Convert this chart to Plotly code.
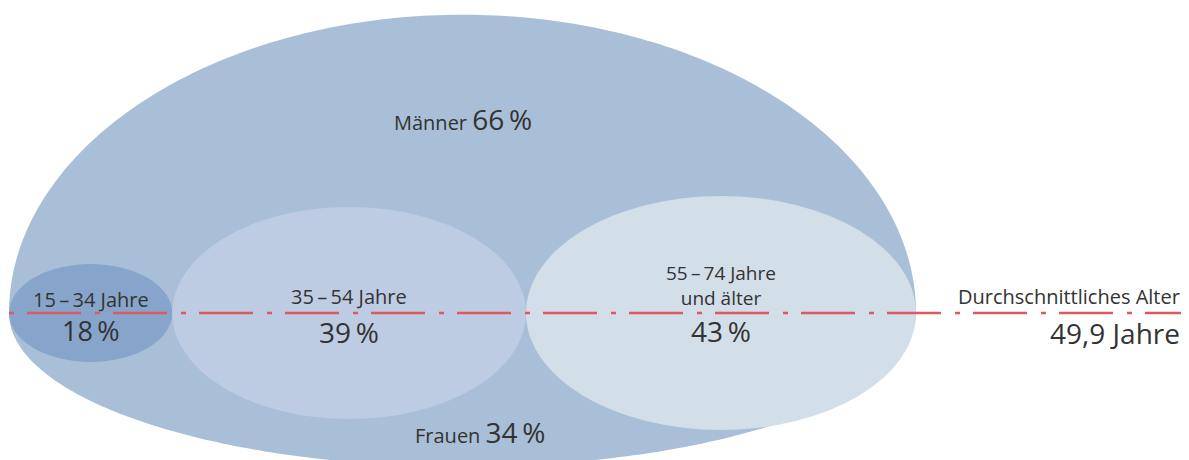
import numpy as np
import plotly.graph_objects as go

# ---------------- data ----------------
gender_labels = ["Männer", "Frauen"]
gender_shares = [66, 34]                      # %
age_labels = ["15–34 Jahre", "35–54 Jahre", "55–74 Jahre<br>und älter"]
age_shares = [18, 39, 43]                     # %
avg_label = "Durchschnittliches Alter"
avg_age = 49.9                                # Jahre

# ---------------- layout / style constants ----------------
W, H = 1189, 460
PAD = 8            # default page body margin of the html page
egg_left, egg_right = 9, 916
axis_y = 313
egg_height = 452
age_aspect = 0.6

col_egg = "#a8bfd7"
age_colors = ["#87a5cb", "#bdcce3", "#d2dee8"]
col_line = "#dc5961"
col_text = "#333333"
FONT = "Open Sans"
fs_small, fs_big = 20, 28
TS = "\u2009"


def pct(v):
    return f"{v}{TS}%"


def dash_lbl(s):
    return s.replace("–", TS + "–" + TS)


fig = go.Figure()

# egg: upper half (Männer share) + lower half (Frauen share)
cx = (egg_left + egg_right) / 2
rx = (egg_right - egg_left) / 2
ry_top = egg_height * gender_shares[0] / 100
ry_bot = egg_height * gender_shares[1] / 100
t = np.linspace(0, np.pi, 200)
xs_top = cx - rx * np.cos(t)
ys_top = axis_y - ry_top * np.sin(t)
xs_bot = cx + rx * np.cos(t)
ys_bot = axis_y + ry_bot * np.sin(t)
xs = np.concatenate([xs_top, xs_bot])
ys = np.concatenate([ys_top, ys_bot])
path = "M " + " L ".join(f"{a:.2f},{b:.2f}" for a, b in zip(xs, ys)) + " Z"
fig.add_shape(type="path", path=path, xref="x", yref="y",
              fillcolor=col_egg, line=dict(width=0), layer="below")

# age group ellipses, widths proportional to shares
total_w = egg_right - egg_left
x0 = egg_left
centers = []
for share, col in zip(age_shares, age_colors):
    w = total_w * share / 100
    h = w * age_aspect
    fig.add_shape(type="circle", xref="x", yref="y",
                  x0=x0, x1=x0 + w, y0=axis_y - h / 2, y1=axis_y + h / 2,
                  fillcolor=col, line=dict(width=0), layer="below")
    centers.append(x0 + w / 2)
    x0 += w

# average age line
fig.add_shape(type="line", xref="x", yref="y", x0=egg_left, x1=1181,
              y0=axis_y, y1=axis_y,
              line=dict(color=col_line, width=2.5, dash="5px,13px,54px,14px"),
              layer="above")


def put(x, center_y, text, fs, xanchor="center"):
    fig.add_annotation(x=x, y=center_y, xref="x", yref="y",
                       text=text, showarrow=False, xanchor=xanchor,
                       yanchor="middle", borderpad=0,
                       font=dict(family=FONT, size=fs, color=col_text))


def put_b(x, baseline, text, fs, xanchor="center"):
    put(x, baseline - 0.39 * fs, text, fs, xanchor)


# gender labels (small word + large percentage)
for lab, share, gx, gb in zip(gender_labels, gender_shares, [463, 480], [130, 443]):
    put(gx, gb - 0.39 * fs_big,
        f"{lab} <span style='font-size:{fs_big}px'>{pct(share)}</span>", fs_small)

# age labels
label_baselines = [307, 304, None]
pct_baselines = [341, 343, 342]
pct_sizes = [27, fs_big, fs_big]
for cxx, lab, share, lb, pb, pf in zip(centers, age_labels, age_shares,
                                       label_baselines, pct_baselines, pct_sizes):
    if "<br>" in lab:
        put(cxx, 285, dash_lbl(lab), 19)
    else:
        put_b(cxx, lb, dash_lbl(lab), fs_small)
    put_b(cxx, pb, pct(share), pf)

# average age
put_b(1181, 304, avg_label, fs_small, xanchor="right")
put_b(1181, 344, f"{avg_age:.1f}".replace(".", ",") + " Jahre", fs_big, xanchor="right")

fig.update_layout(
    width=W - PAD, height=H - PAD, margin=dict(l=0, r=0, t=0, b=0),
    paper_bgcolor="white", plot_bgcolor="white", showlegend=False,
    xaxis=dict(range=[PAD, W], visible=False, fixedrange=True),
    yaxis=dict(range=[H, PAD], visible=False, fixedrange=True),
)
fig.write_html("out.html", config={"displayModeBar": False})
